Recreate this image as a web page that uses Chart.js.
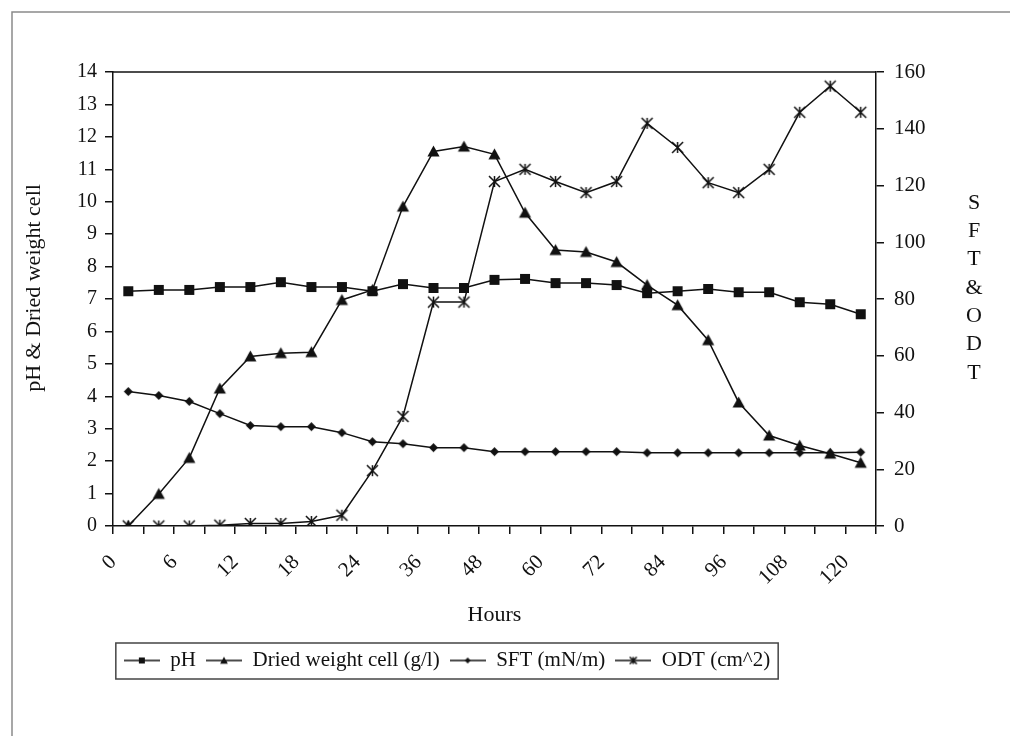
<!DOCTYPE html>
<html><head><meta charset="utf-8">
<script src="https://cdn.jsdelivr.net/npm/chart.js@4.4.1/dist/chart.umd.min.js"></script>
<style>html,body{margin:0;padding:0;background:#fff;} #wrap{width:1010px;height:736px;}</style>
</head><body><div id="wrap"><canvas id="c" width="1010" height="736"></canvas></div>
<script>
// ---------- data ----------
const hours = ['0','3','6','9','12','15','18','21','24','30','36','42','48','54','60','66','72','78','84','90','96','102','108','114','120'];
const pH = [7.24,7.28,7.28,7.37,7.37,7.52,7.37,7.37,7.24,7.46,7.34,7.34,7.59,7.62,7.49,7.49,7.43,7.18,7.24,7.31,7.21,7.21,6.90,6.84,6.53];
const driedWeight = [0,0.99,2.1,4.24,5.23,5.33,5.36,6.97,7.28,9.85,11.55,11.70,11.46,9.66,8.51,8.45,8.14,7.43,6.81,5.73,3.81,2.79,2.48,2.23,1.95];
const sft = [47.4,46.0,43.9,39.6,35.4,35.0,35.0,32.9,29.7,29.0,27.6,27.6,26.2,26.2,26.2,26.2,26.2,25.8,25.8,25.8,25.8,25.8,25.8,25.8,26.0];
const odt = [0,0,0,0.3,0.9,0.9,1.6,3.8,19.5,38.6,78.9,78.9,121.4,125.7,121.4,117.5,121.4,141.9,133.4,121.0,117.5,125.7,145.8,155.0,145.8];
const seriesNames = ['pH','Dried weight cell (g/l)','SFT (mN/m)','ODT (cm^2)'];
const leftTitle = 'pH & Dried weight cell';
const rightTitleLetters = ['S','F','T','&','O','D','T'];
const xTitle = 'Hours';

// ---------- styling ----------
const INK = '#111';
const SERIF = '"Liberation Serif", "Times New Roman", serif';
Chart.defaults.font.family = SERIF;
Chart.defaults.font.size = 20;
Chart.defaults.color = INK;

function drawMarker(ctx, kind, cx, cy, s) {
  ctx.fillStyle = INK; ctx.strokeStyle = INK; ctx.lineWidth = 1.5;
  ctx.beginPath();
  if (kind === 'square') { ctx.rect(cx - s/2, cy - s/2, s, s); ctx.fill(); }
  else if (kind === 'triangle') { ctx.moveTo(cx, cy - s*0.55); ctx.lineTo(cx + s*0.55, cy + s*0.45); ctx.lineTo(cx - s*0.55, cy + s*0.45); ctx.closePath(); ctx.fill(); }
  else if (kind === 'diamond') { ctx.moveTo(cx, cy - s/2); ctx.lineTo(cx + s/2, cy); ctx.lineTo(cx, cy + s/2); ctx.lineTo(cx - s/2, cy); ctx.closePath(); ctx.fill(); }
  else if (kind === 'star') {
    const h = s/2;
    ctx.moveTo(cx - h, cy - h); ctx.lineTo(cx + h, cy + h);
    ctx.moveTo(cx + h, cy - h); ctx.lineTo(cx - h, cy + h);
    ctx.moveTo(cx, cy - h); ctx.lineTo(cx, cy + h);
    ctx.stroke();
  }
}
function markerCanvas(kind, s) {
  const c = document.createElement('canvas'); c.width = s + 4; c.height = s + 4;
  drawMarker(c.getContext('2d'), kind, c.width/2, c.height/2, s);
  return c;
}
function legendCanvas(kind, s) {
  const c = document.createElement('canvas'); c.width = 36; c.height = 14;
  const ctx = c.getContext('2d');
  ctx.strokeStyle = INK; ctx.lineWidth = 1.5;
  ctx.beginPath(); ctx.moveTo(0, 7); ctx.lineTo(36, 7); ctx.stroke();
  drawMarker(ctx, kind, 18, 7, s);
  return c;
}
const pointImgs = [markerCanvas('square', 10), markerCanvas('triangle', 11), markerCanvas('diamond', 9), markerCanvas('star', 11)];
const legendImgs = [legendCanvas('square', 6), legendCanvas('triangle', 7), legendCanvas('diamond', 6), legendCanvas('star', 7)];

const LEGEND_SHIFT = -58;
const decor = {
  id: 'decor',
  beforeDraw(chart) {
    const ctx = chart.ctx; ctx.save();
    ctx.fillStyle = '#fff'; ctx.fillRect(0, 0, chart.width, chart.height);
    ctx.strokeStyle = '#8a8a8a'; ctx.lineWidth = 1.5;
    ctx.beginPath(); ctx.moveTo(12, 736); ctx.lineTo(12, 12); ctx.lineTo(1010, 12); ctx.stroke();
    ctx.restore();
  },
  afterLayout(chart) {
    const lg = chart.legend;
    if (lg) { lg.left += LEGEND_SHIFT; lg.right += LEGEND_SHIFT; }
  },
  afterDraw(chart) {
    const ctx = chart.ctx, ca = chart.chartArea; ctx.save();
    ctx.strokeStyle = INK; ctx.lineWidth = 1.5;
    ctx.beginPath(); ctx.moveTo(ca.left, ca.top); ctx.lineTo(ca.right, ca.top); ctx.stroke();
    const hb = chart.legend.legendHitBoxes;
    if (hb && hb.length) {
      const first = hb[0], last = hb[hb.length - 1];
      const x0 = first.left - 8, x1 = last.left + last.width + 8;
      const y0 = first.top - 7, y1 = first.top + first.height + 8;
      ctx.strokeStyle = '#444'; ctx.lineWidth = 1.5;
      ctx.strokeRect(x0, y0, x1 - x0, y1 - y0);
    }
    ctx.fillStyle = INK; ctx.font = '22px ' + SERIF; ctx.textAlign = 'center'; ctx.textBaseline = 'middle';
    rightTitleLetters.forEach((ch, i) => ctx.fillText(ch, 974, 203 + i * 28.3));
    // left axis title (rotated), centred where the reference has it
    ctx.translate(34, 288); ctx.rotate(-Math.PI / 2);
    ctx.fillText(leftTitle, 0, 0);
    ctx.restore();
  }
};

const values = [pH, driedWeight, sft, odt];
const axes = ['y', 'y', 'y1', 'y1'];
const datasets = seriesNames.map((name, i) => ({
  label: name,
  data: values[i],
  yAxisID: axes[i],
  borderColor: INK,
  backgroundColor: INK,
  borderWidth: 1.5,
  tension: 0,
  pointStyle: pointImgs[i],
  pointRadius: 5,
  pointHoverRadius: 5,
  fill: false
}));

new Chart(document.getElementById('c'), {
  type: 'line',
  data: { labels: hours, datasets },
  plugins: [decor],
  options: {
    responsive: false,
    animation: false,
    devicePixelRatio: 1,
    layout: { padding: { top: 72, bottom: 55, left: 0, right: 0 } },
    plugins: {
      tooltip: { enabled: false },
      legend: {
        position: 'bottom',
        labels: {
          usePointStyle: true,
          pointStyleWidth: 36,
          padding: 10,
          font: { size: 21, family: SERIF },
          color: INK,
          generateLabels(chart) {
            const items = Chart.defaults.plugins.legend.labels.generateLabels(chart);
            items.forEach((it, i) => { it.pointStyle = legendImgs[i]; });
            return items;
          }
        }
      }
    },
    scales: {
      x: {
        type: 'category',
        offset: true,
        grid: { offset: true, drawOnChartArea: false, drawTicks: true, tickLength: 8, color: INK, lineWidth: 1.5 },
        border: { display: true, color: INK, width: 1.5 },
        ticks: {
          autoSkip: false, minRotation: 45, maxRotation: 45, padding: 16, labelOffset: -15,
          font: { size: 21, family: SERIF }, color: INK,
          callback: (v, i) => (i % 2 === 0 ? hours[i] : '')
        },
        title: { display: true, text: xTitle, font: { size: 22, family: SERIF }, color: INK, padding: { top: 0, bottom: 12 } },
        afterFit: (s) => { s.height = 114; }
      },
      y: {
        position: 'left',
        min: 0, max: 14,
        grid: { drawOnChartArea: false, drawTicks: true, tickLength: 8, color: INK, lineWidth: 1.5 },
        border: { display: true, color: INK, width: 1.5 },
        ticks: { stepSize: 1, padding: 8, font: { size: 20, family: SERIF }, color: INK },
        title: { display: false },
        afterFit: (s) => { s.width = 113; }
      },
      y1: {
        position: 'right',
        min: 0, max: 160,
        grid: { drawOnChartArea: false, drawTicks: true, tickLength: 8, color: INK, lineWidth: 1.5 },
        border: { display: true, color: INK, width: 1.5 },
        ticks: { stepSize: 20, padding: 10, font: { size: 21, family: SERIF }, color: INK },
        afterFit: (s) => { s.width = 134; }
      }
    }
  }
});
</script>
</body></html>
